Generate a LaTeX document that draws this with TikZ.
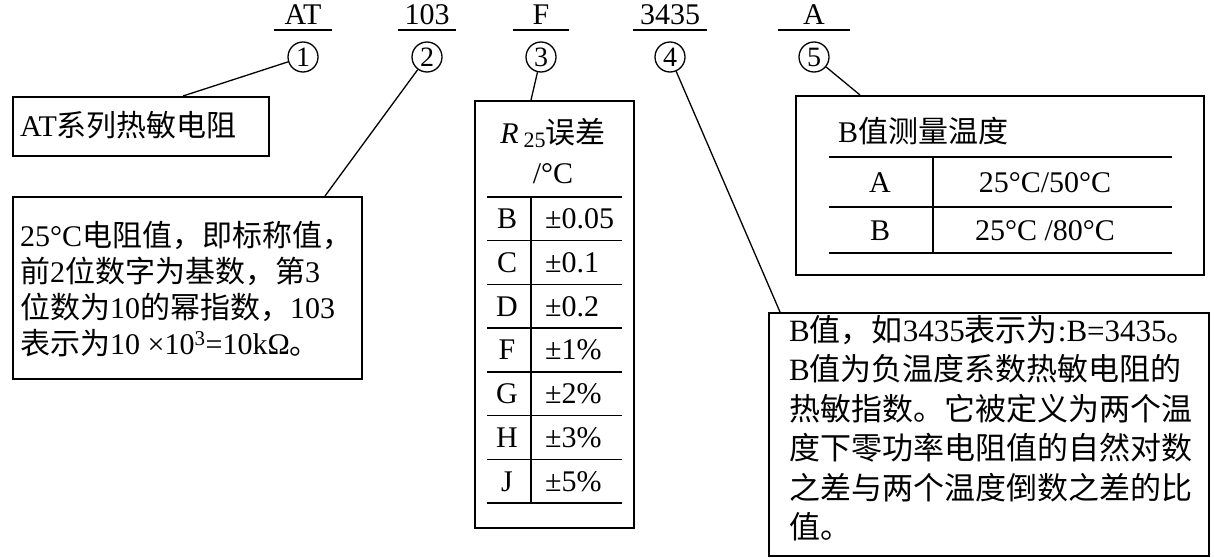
\documentclass[tikz,border=0pt]{standalone}
\usepackage{fontspec}
\setmainfont{Liberation Serif}
\newfontfamily\cjk{Noto Sans CJK SC}
\usetikzlibrary{positioning}
\newcommand{\zh}[1]{{\cjk #1}}
\tikzset{
  box/.style   = {draw, line width=1.8pt, anchor=north west, inner sep=0pt},
  code/.style  = {anchor=south, inner xsep=0pt, inner ysep=5pt, text depth=0pt},
  num/.style   = {circle, draw, line width=1.3pt, minimum size=30pt, inner sep=0pt, font=\fontsize{28}{28}\selectfont},
  lead/.style  = {line width=1.3pt},
  txt/.style   = {inner sep=0pt, align=left},
  cell/.style  = {inner sep=0pt, anchor=base},
  rule/.style  = {line width=1.4pt}
}

\begin{document}
\begin{tikzpicture}[x=1pt, y=-1pt, font=\fontsize{30}{36}\selectfont]
  \useasboundingbox (0,0) rectangle (1214,557);

  % code letters with their numbers
  \foreach \cx/\w/\t [count=\i] in {303/58/AT, 427/57/103, 541/56/F, 670/73/3435, 814/71/A} {
    \node[code, minimum width=\w pt] (t\i) at (\cx,30) {\t};
    \draw[lead] (t\i.south west) -- (t\i.south east);
    \node[num] (c\i) at (\cx,57) {\i};
  }

  % boxes
  \node[box, minimum width=256pt, minimum height=59pt]  (b1) at (12,96)  {};
  \node[box, minimum width=349pt, minimum height=182pt] (b2) at (12,196) {};
  \node[box, minimum width=159pt, minimum height=427pt] (b3) at (474,100) {};
  \node[box, minimum width=408pt, minimum height=179pt] (b5) at (795,95) {};
  \node[box, minimum width=440pt, minimum height=243pt] (b4) at (768,312) {};

  \node[txt, anchor=west] (b1t) at (20,125) {AT\zh{系列热敏电阻}};
  \node[txt, anchor=west, font=\fontsize{30}{36}\selectfont] (b2t) at (20,289)
    {25°C\zh{电阻值，即标称值，}\\
     \zh{前}2\zh{位数字为基数，第}3\\
     \zh{位数为}10\zh{的幂指数，}103\\
     \zh{表示为}10 ×10\textsuperscript{3}=10kΩ\zh{。}};
  \node[txt, anchor=west, font=\fontsize{31}{39.5}\selectfont] (b4t) at (789,428)
    {B\zh{值，如}3435\zh{表示为}:B=3435\zh{。}\\
     B\zh{值为负温度系数热敏电阻的}\\
     \zh{热敏指数。它被定义为两个温}\\
     \zh{度下零功率电阻值的自然对数}\\
     \zh{之差与两个温度倒数之差的比}\\
     \zh{值。}};

  % R25 table
  \node[cell] (h1) at (553,143) {\textit{R}\,\raisebox{-0.35ex}{\fontsize{22}{22}\selectfont 25}\zh{误差}};
  \node[cell] (h2) at (553,183) {/°C};
  \foreach \j in {0,...,7}
    \draw[rule] (487,197+43.7*\j) -- (622,197+43.7*\j);
  \draw[rule] (531,197) -- (531,503);
  \foreach \k/\v [count=\i] in {B/{±0.05}, C/{±0.1}, D/{±0.2}, F/{±1\%}, G/{±2\%}, H/{±3\%}, J/{±5\%}} {
    \node[cell] (l\i) at (507,175.15+43.7*\i+10) {\k};
    \node[cell, anchor=base west] (v\i) at (545,175.15+43.7*\i+10) {\v};
  }

  % B value table
  \node[cell, anchor=base west] (h5) at (838,142) {B\zh{值测量温度}};
  \foreach \y in {157,207,253}
    \draw[rule] (829,\y) -- (1172,\y);
  \draw[rule] (933,157) -- (933,253);
  \node[cell] (ra) at (880,192) {A};
  \node[cell] (rb) at (880,240) {B};
  \node[cell] (va) at (1045,192) {25°C/50°C};
  \node[cell] (vb) at (1045,240) {25°C /80°C};

  % leader lines
  \coordinate (p1) at (183,96);
  \coordinate (p2) at (325,196);
  \coordinate (p3) at (531,100);
  \coordinate (p4) at (780,312);
  \coordinate (p5) at (860,95);
  \foreach \i in {1,...,5}
    \draw[lead] (c\i) -- (p\i);
\end{tikzpicture}
\end{document}
